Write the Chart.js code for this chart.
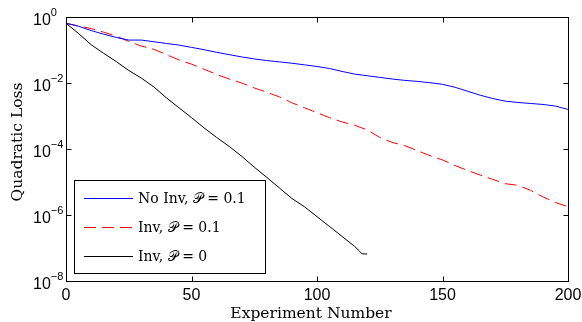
<!DOCTYPE html>
<html>
<head>
<meta charset="utf-8">
<script src="https://cdn.jsdelivr.net/npm/chart.js@4.4.0/dist/chart.umd.min.js"></script>
<style>
    html, body { margin: 0; padding: 0; background: #fff; }
</style>
</head>
<body>
<canvas id="chart" width="582" height="322"></canvas>
<script>
// experiment numbers for the two P = 0.1 runs
const experiments = [0, 5, 10, 15, 20, 25, 30, 35, 40, 45, 50, 55, 60, 65, 70, 75, 80, 85, 90, 95, 100,
    105, 110, 115, 120, 125, 130, 135, 140, 145, 150, 155, 160, 165, 170, 175, 180, 185, 190, 195, 200];

const lossNoInv = [0.646, 0.525, 0.389, 0.302, 0.240, 0.200, 0.200, 0.178, 0.158, 0.141, 0.120,
    0.102, 0.0851, 0.0724, 0.0617, 0.0537, 0.0479, 0.0437, 0.0398, 0.0355, 0.0316,
    0.0275, 0.0224, 0.0186, 0.0166, 0.0148, 0.0132, 0.0120, 0.0112, 0.0102, 0.00912,
    0.00741, 0.00562, 0.00427, 0.00339, 0.00282, 0.00257, 0.00240, 0.00224, 0.00200, 0.00158];

const lossInv = [0.646, 0.537, 0.447, 0.347, 0.263, 0.182, 0.132, 0.105, 0.0724, 0.0501, 0.0372,
    0.0263, 0.0182, 0.0132, 0.0100, 0.00708, 0.00525, 0.00380, 0.00251, 0.00178, 0.00126,
    8.91e-4, 6.61e-4, 5.25e-4, 3.80e-4, 2.24e-4, 1.58e-4, 1.26e-4, 8.91e-5, 6.31e-5, 4.68e-5,
    3.16e-5, 2.24e-5, 1.62e-5, 1.20e-5, 8.91e-6, 7.94e-6, 5.62e-6, 3.55e-6, 2.40e-6, 1.78e-6];

// the P = 0 run stops early
const experimentsZero = [0, 5, 10, 15, 20, 25, 30, 35, 40, 45, 50, 55, 60, 65, 70, 75, 80, 85,
    90, 95, 100, 105, 110, 115, 117, 118, 120];

const lossInvZero = [0.646, 0.316, 0.145, 0.0794, 0.0447, 0.0240, 0.0141, 0.00759, 0.00355,
    0.00178, 8.91e-4, 4.37e-4, 2.24e-4, 1.20e-4, 6.03e-5, 2.82e-5, 1.38e-5, 6.61e-6,
    3.16e-6, 1.78e-6, 8.91e-7, 4.47e-7, 2.24e-7, 1.12e-7, 7.94e-8, 6.61e-8, 6.61e-8];

const seriesLabels = ['No Inv, \u{1D4AB} = 0.1', 'Inv, \u{1D4AB} = 0.1', 'Inv, \u{1D4AB} = 0'];

const xTicks = [0, 50, 100, 150, 200];
const yTicks = [1, 1e-2, 1e-4, 1e-6, 1e-8];
const yTickExps = ['0', '\u22122', '\u22124', '\u22126', '\u22128'];

function toPoints(xs, ys) {
    return xs.map((v, i) => ({ x: v, y: ys[i] }));
}

// MATLAB style box, inward ticks, labels and legend
const matlabAxes = {
    id: 'matlabAxes',
    afterDatasetsDraw(chart) {
        const ctx = chart.ctx;
        const a = chart.chartArea;
        const xs = chart.scales.x;
        const ys = chart.scales.y;
        const L = Math.round(a.left) + 0.5, R = Math.round(a.right) + 0.5;
        const T = Math.round(a.top) + 0.5, B = Math.round(a.bottom) + 0.5;

        ctx.save();
        ctx.strokeStyle = '#000';
        ctx.lineWidth = 1;
        ctx.strokeRect(L, T, R - L, B - T);

        ctx.beginPath();
        xTicks.forEach(v => {
            const px = Math.round(xs.getPixelForValue(v)) + 0.5;
            ctx.moveTo(px, B); ctx.lineTo(px, B - 5);
            ctx.moveTo(px, T); ctx.lineTo(px, T + 5);
        });
        yTicks.forEach(v => {
            const py = Math.round(ys.getPixelForValue(v)) + 0.5;
            ctx.moveTo(L, py); ctx.lineTo(L + 5, py);
            ctx.moveTo(R, py); ctx.lineTo(R - 5, py);
        });
        ctx.stroke();

        // tick labels
        ctx.fillStyle = '#000';
        ctx.font = '16px "Liberation Sans"';
        ctx.textAlign = 'center';
        ctx.textBaseline = 'middle';
        xTicks.forEach(v => {
            ctx.fillText(String(v), xs.getPixelForValue(v), 296);
        });
        ctx.textAlign = 'left';
        yTicks.forEach((v, i) => {
            const py = ys.getPixelForValue(v);
            ctx.font = '16px "Liberation Sans"';
            ctx.fillText('10', 33, py + 4);
            const w = ctx.measureText('10').width;
            ctx.font = '11px "Liberation Sans"';
            ctx.fillText(yTickExps[i], 33 + w, py - 4);
        });

        // axis titles
        ctx.font = '15.5px "DejaVu Serif"';
        ctx.textAlign = 'center';
        ctx.textBaseline = 'alphabetic';
        ctx.fillText('Experiment Number', 311, 318);
        ctx.save();
        ctx.translate(22, 142);
        ctx.rotate(-Math.PI / 2);
        ctx.fillText('Quadratic Loss', 0, 0);
        ctx.restore();

        // legend
        ctx.fillStyle = '#fff';
        ctx.fillRect(74.5, 180.5, 191, 93);
        ctx.strokeStyle = '#000';
        ctx.strokeRect(74.5, 180.5, 191, 93);
        const rows = [198, 227, 256];
        chart.data.datasets.forEach((ds, i) => {
            const y = rows[i] + 0.5;
            ctx.strokeStyle = ds.borderColor;
            ctx.lineWidth = 1;
            ctx.setLineDash(ds.borderDash || []);
            ctx.beginPath();
            ctx.moveTo(84, y);
            ctx.lineTo(133, y);
            ctx.stroke();
            ctx.setLineDash([]);
            ctx.fillStyle = '#000';
            ctx.font = '14px "DejaVu Serif"';
            ctx.textAlign = 'left';
            ctx.textBaseline = 'middle';
            ctx.fillText(ds.label, 138, rows[i] + 1);
        });
        ctx.restore();
    }
};

new Chart(document.getElementById('chart').getContext('2d'), {
    type: 'line',
    data: {
        datasets: [{
            label: seriesLabels[0],
            data: toPoints(experiments, lossNoInv),
            borderColor: '#0000ff',
            borderWidth: 1,
        }, {
            label: seriesLabels[1],
            data: toPoints(experiments, lossInv),
            borderColor: '#ff0000',
            borderWidth: 1,
            borderDash: [12, 6],
        }, {
            label: seriesLabels[2],
            data: toPoints(experimentsZero, lossInvZero),
            borderColor: '#000000',
            borderWidth: 1,
        }]
    },
    options: {
        responsive: false,
        animation: false,
        events: [],
        layout: { padding: { left: 66, top: 17, right: 14, bottom: 41 } },
        elements: { point: { radius: 0 }, line: { tension: 0 } },
        plugins: { legend: { display: false }, tooltip: { enabled: false } },
        scales: {
            x: { type: 'linear', min: 0, max: 200, display: false },
            y: { type: 'logarithmic', min: 1e-8, max: 1, display: false }
        }
    },
    plugins: [matlabAxes]
});
</script>
</body>
</html>
